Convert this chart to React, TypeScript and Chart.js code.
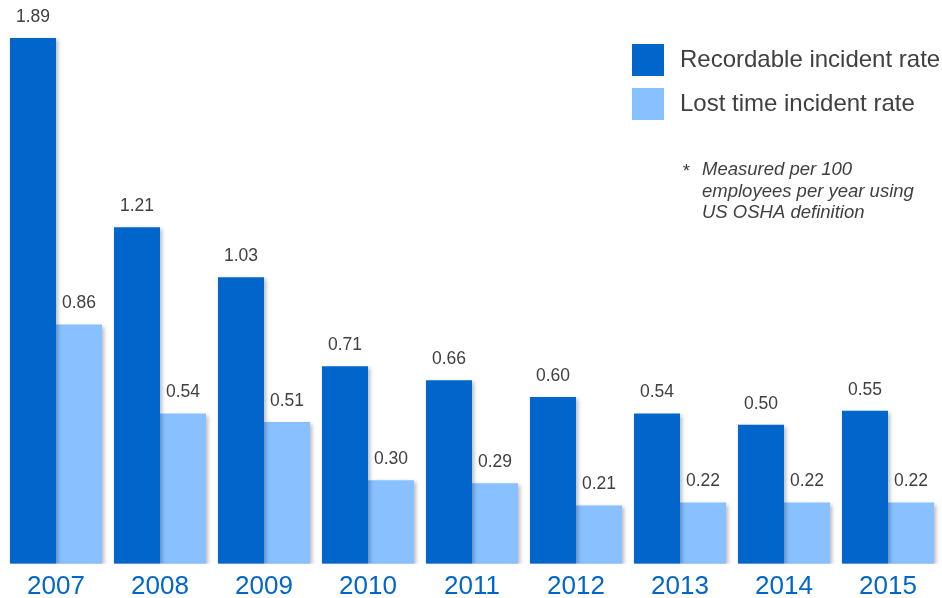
import React, { useEffect, useRef } from "react";
import { Chart, registerables } from "chart.js";

Chart.register(...registerables);

const years = ["2007", "2008", "2009", "2010", "2011", "2012", "2013", "2014", "2015"];
const recordable = [1.89, 1.21, 1.03, 0.71, 0.66, 0.6, 0.54, 0.5, 0.55];
const lostTime = [0.86, 0.54, 0.51, 0.3, 0.29, 0.21, 0.22, 0.22, 0.22];
const seriesNames = ["Recordable incident rate", "Lost time incident rate"];
const noteLines = ["Measured per 100", "employees per year using", "US OSHA definition"];

const DARK = "#0066CC";
const LIGHT = "#89C0FF";
const TEXT = "#404040";
const FONT = "'Liberation Sans', Arial, sans-serif";

const shadowPlugin = {
  id: "barShadow",
  beforeDatasetsDraw(chart: any) {
    const ctx = chart.ctx;
    ctx.save();
    ctx.shadowColor = "rgba(0,0,0,0.28)";
    ctx.shadowBlur = 4;
    ctx.shadowOffsetX = 2;
    ctx.shadowOffsetY = 2;
  },
  afterDatasetsDraw(chart: any) {
    chart.ctx.restore();
  },
};

const labelsPlugin = {
  id: "valueLabels",
  afterDraw(chart: any) {
    const ctx = chart.ctx;
    ctx.save();
    ctx.font = `17.5px ${FONT}`;
    ctx.fillStyle = TEXT;
    ctx.textAlign = "center";
    ctx.textBaseline = "middle";
    chart.data.datasets.forEach((ds: any, di: number) => {
      const meta = chart.getDatasetMeta(di);
      meta.data.forEach((bar: any, i: number) => {
        ctx.fillText(Number(ds.data[i]).toFixed(2), bar.x, bar.y - 21);
      });
    });
    // legend
    const lx = 632;
    const ly = [44, 88];
    chart.data.datasets.forEach((ds: any, di: number) => {
      ctx.fillStyle = ds.backgroundColor;
      ctx.fillRect(lx, ly[di], 32, 32);
      ctx.fillStyle = TEXT;
      ctx.font = `24px ${FONT}`;
      ctx.textAlign = "left";
      ctx.textBaseline = "middle";
      ctx.fillText(ds.label, lx + 48, ly[di] + 16);
    });
    // note
    ctx.font = `italic 18.5px ${FONT}`;
    ctx.fillStyle = TEXT;
    ctx.textBaseline = "middle";
    ctx.fillText("*", 682, 172);
    noteLines.forEach((t, i) => ctx.fillText(t, 702, 170 + i * 21.5));
    ctx.restore();
  },
};

export default function App() {
  const ref = useRef<HTMLCanvasElement>(null);
  useEffect(() => {
    document.body.style.margin = "0";
    const chart = new Chart(ref.current!, {
      type: "bar",
      data: {
        labels: years,
        datasets: [
          { label: seriesNames[0], data: recordable, backgroundColor: DARK },
          { label: seriesNames[1], data: lostTime, backgroundColor: LIGHT },
        ],
      },
      options: {
        animation: false,
        responsive: false,
        layout: { padding: { left: 4, right: 2, top: 0, bottom: -11 } },
        plugins: { legend: { display: false }, tooltip: { enabled: false } },
        datasets: { bar: { categoryPercentage: 0.885, barPercentage: 1 } },
        scales: {
          x: {
            grid: { display: false, drawTicks: false },
            border: { display: false },
            ticks: { color: DARK, font: { size: 26, family: FONT }, padding: 7 },
          },
          y: { display: false, min: 0, max: 2.027 },
        },
      },
      plugins: [shadowPlugin, labelsPlugin],
    });
    return () => chart.destroy();
  }, []);
  return (
    <div style={{ width: 942, height: 598 }}>
      <canvas ref={ref} width={942} height={598} />
    </div>
  );
}
